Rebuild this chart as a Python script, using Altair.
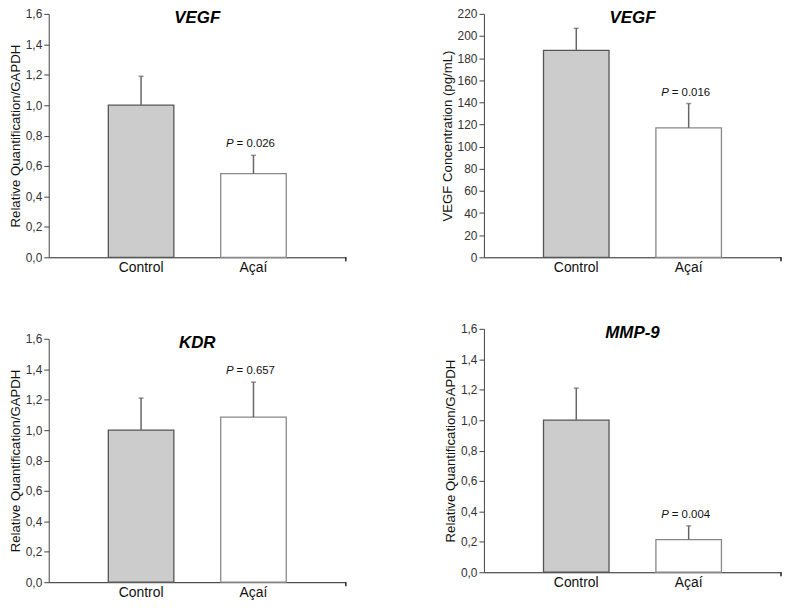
import altair as alt
import pandas as pd

groups = ["Control", "Açaí"]

vegf_rq = [1.0, 0.55]
vegf_rq_err = [0.19, 0.12]
vegf_conc = [187, 117]
vegf_conc_err = [20, 22]
kdr_rq = [1.0, 1.085]
kdr_rq_err = [0.21, 0.23]
mmp9_rq = [1.0, 0.215]
mmp9_rq_err = [0.21, 0.09]

p_vegf_rq = "0.026"
p_vegf_conc = "0.016"
p_kdr = "0.657"
p_mmp9 = "0.004"

rq_ticks = [0, 0.2, 0.4, 0.6, 0.8, 1.0, 1.2, 1.4, 1.6]
conc_ticks = list(range(0, 221, 20))

FONT = "Liberation Sans"
W, H = 299, 245


def panel(title, ytitle, vals, errs, ticks, decimals, pval):
    df = pd.DataFrame({
        "group": groups,
        "value": vals,
        "top": [v + e for v, e in zip(vals, errs)],
        "p": ["", pval],
    })
    ymax = ticks[-1]
    if decimals:
        lexpr = "replace(format(datum.value, '.1f'), '.', ',')"
    else:
        lexpr = "format(datum.value, 'd')"
    x = alt.X("group:N", sort=groups, title=None,
              scale=alt.Scale(paddingInner=0.417, paddingOuter=0.53),
              axis=alt.Axis(labelAngle=0, ticks=False, domainColor="#222",
                            labelFontSize=14, labelColor="#111", labelPadding=3,
                            labelFont=FONT))
    y = alt.Y("value:Q", title=ytitle,
              scale=alt.Scale(domain=[0, ymax], nice=False),
              axis=alt.Axis(values=ticks, tickCount=len(ticks), labelOverlap=False,
                            labelExpr=lexpr, grid=False,
                            domainColor="#444", tickColor="#444", tickSize=5,
                            labelFontSize=12, labelColor="#333", labelFont=FONT,
                            titleFontSize=13.3, titleFontWeight="normal",
                            titleColor="#111", titleFont=FONT, titlePadding=3,
                            labelPadding=2))
    base = alt.Chart(df)
    bars = base.mark_bar(strokeWidth=1.3).encode(
        x=x, y=y,
        fill=alt.Fill("group:N", legend=None,
                      scale=alt.Scale(domain=groups, range=["#cccccc", "#ffffff"])),
        stroke=alt.Stroke("group:N", legend=None,
                          scale=alt.Scale(domain=groups, range=["#555555", "#888888"])),
    )
    err = base.mark_rule(color="#666666", strokeWidth=1.5).encode(
        x=alt.X("group:N", sort=groups), y="value:Q", y2="top:Q")
    cap = base.mark_tick(color="#666666", size=5, thickness=1.5).encode(
        x=alt.X("group:N", sort=groups), y="top:Q")
    ptxt = base.transform_filter("datum.p != ''")
    pitalic = ptxt.mark_text(font=FONT, fontSize=11.5, fontStyle="italic",
                             align="right", baseline="bottom", dx=-20, dy=-6,
                             color="#111").encode(
        x=alt.X("group:N", sort=groups), y="top:Q", text=alt.value("P"))
    prest = ptxt.mark_text(font=FONT, fontSize=11.5, align="left",
                           baseline="bottom", dx=-17, dy=-6, color="#111").encode(
        x=alt.X("group:N", sort=groups), y="top:Q",
        text=alt.Text("ptext:N")).transform_calculate(ptext="'= ' + datum.p")
    endtick = alt.Chart(df).mark_rule(color="#222").encode(
        x=alt.value(W), y=alt.value(H), y2=alt.value(H + 4))
    ttl = alt.Chart(df).transform_filter("datum.p != ''").mark_text(
        font=FONT, fontSize=17, fontWeight="bold", fontStyle="italic",
        baseline="middle", align="center", color="#000").encode(
        x=alt.value(W / 2), y=alt.value(4), text=alt.value(title))
    return alt.layer(bars, err, cap, pitalic, prest, endtick, ttl).properties(
        width=W, height=H)


p1 = panel("VEGF", "Relative Quantification/GAPDH", vegf_rq, vegf_rq_err,
           rq_ticks, True, p_vegf_rq)
p2 = panel("VEGF", "VEGF Concentration (pg/mL)", vegf_conc, vegf_conc_err,
           conc_ticks, False, p_vegf_conc)
p3 = panel("KDR", "Relative Quantification/GAPDH", kdr_rq, kdr_rq_err,
           rq_ticks, True, p_kdr)
p4 = panel("MMP-9", "Relative Quantification/GAPDH", mmp9_rq, mmp9_rq_err,
           rq_ticks, True, p_mmp9)

left = alt.vconcat(p1, p3, spacing=59)
right = alt.vconcat(p2, p4, spacing=49)
chart = alt.hconcat(left, right, spacing=93).properties(
    padding={"left": 0, "top": -2, "right": 0, "bottom": 0}
).configure(font=FONT).configure_view(strokeWidth=0)

chart.save("out.html", embed_options={"renderer": "svg", "actions": False})
